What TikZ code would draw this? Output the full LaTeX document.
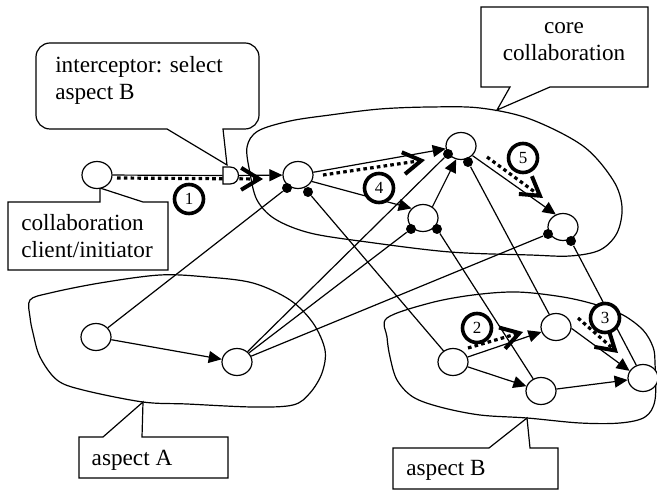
\documentclass[tikz,border=0pt]{standalone}
\usepackage{fontspec}
\setmainfont{Liberation Serif}
\usetikzlibrary{shapes.geometric, arrows.meta, calc}

\tikzset{
  obj/.style={ellipse, draw, fill=white, line width=0.6pt, minimum width=15pt, minimum height=13.5pt, inner sep=0pt},
  pin/.style={circle, fill=black, inner sep=0pt, minimum size=5pt},
  conn/.style={line width=0.6pt},
  call/.style={conn, -{Triangle[length=6.5pt,width=6pt]}},
  msg/.style={line width=1.6pt, dash pattern=on 1.8pt off 1.6pt, -{Straight Barb[length=9pt,width=11pt,line width=2pt]}},
  stepno/.style={circle, draw, fill=white, line width=1.8pt, minimum size=14.5pt, inner sep=0pt, font=\fontsize{8.5}{9}\selectfont},
  note/.style={align=left, inner sep=0pt, font=\fontsize{11.6}{13.5}\selectfont},
  balloon/.style={draw, fill=white, line width=0.6pt}
}

\begin{document}
\begin{tikzpicture}[x=0.5pt, y=-0.5pt]
  \useasboundingbox (0,0) rectangle (657,491);

  % outlines: core collaboration, aspect A, aspect B
  \draw[conn] plot[smooth cycle, tension=0.55] coordinates {(247,147) (258,131) (290,121) (330,115) (380,109) (430,107) (480,108) (530,119) (583,146) (613,180) (622,207) (617,233) (600,250) (570,256) (530,255) (450,252) (367,242) (310,233) (275,219) (257,200) (250,173)};
  \draw[conn] plot[smooth cycle, tension=0.55] coordinates {(30,300) (50,293) (100,283) (160,275) (207,277) (253,283) (290,300) (313,323) (325,350) (322,373) (310,393) (293,405) (253,407) (187,404) (143,402) (83,390) (57,380) (40,357) (33,333) (30,317)};
  \draw[conn] plot[smooth cycle, tension=0.55] coordinates {(387,318) (430,303) (473,295) (517,292) (563,297) (597,305) (623,315) (643,330) (653,347) (655,363) (655,400) (645,417) (620,423) (580,423) (527,418) (480,415) (440,407) (413,397) (397,380) (390,357) (387,337)};

  % callouts
  \draw[balloon] (227,165) -- (167,129) [rounded corners=7pt] -- (36,129) -- (36,43) -- (259,43) -- (259,129) [sharp corners] -- (223,129) -- cycle;
  \draw[balloon] (100,188) -- (143,202) -- (168,202) -- (168,270) -- (8,270) -- (8,202) -- (100,202) -- cycle;
  \draw[balloon] (497,110) -- (510,87) -- (481,87) -- (481,7) -- (648,7) -- (648,87) -- (550,87) -- cycle;
  \draw[balloon] (143,402) -- (142,437) -- (228,437) -- (228,478) -- (79,478) -- (79,437) -- (103,437) -- cycle;
  \draw[balloon] (527,418) -- (530,448) -- (558,448) -- (558,489) -- (393,489) -- (393,448) -- (489,448) -- cycle;
  \node[note] (icptnote) at (139,80) {interceptor: select\\aspect B};
  \node[note] (clientnote) at (87,236) {collaboration\\client/initiator};
  \node[note, align=center] (corenote) at (564,42) {core\\collaboration};
  \node[note] (anote) at (132,460) {aspect A};
  \node[note] (bnote) at (446,470) {aspect B};

  % components
  \node[obj] (client) at (97,175) {};
  \node[obj] (n1) at (298,175) {};
  \node[obj] (n2) at (461,146) {};
  \node[obj] (n3) at (423,218) {};
  \node[obj] (n4) at (563,227) {};
  \node[obj] (a1) at (96,337) {};
  \node[obj] (a2) at (237,362) {};
  \node[obj] (b1) at (453,362) {};
  \node[obj] (b2) at (556,327) {};
  \node[obj] (b3) at (541,391) {};
  \node[obj] (b4) at (643,378) {};
  \node[inner sep=0pt, minimum width=7.5pt, minimum height=8.5pt] (icpt) at (230.5,175.5) {};

  % join points on the core components
  \node[pin] (n1a) at (287,188) {};
  \node[pin] (n1b) at (308,192) {};
  \node[pin] (n2a) at (448,154) {};
  \node[pin] (n2b) at (468,162) {};
  \node[pin] (n3a) at (411,229) {};
  \node[pin] (n3b) at (437,229) {};
  \node[pin] (n4a) at (548,234) {};
  \node[pin] (n4b) at (571,241) {};

  % calls
  \draw[conn] (client) -- (icpt);
  \draw[call] (icpt) -- (n1);
  \draw[call] (n1) -- (n2);
  \draw[call] (n1.335) -- (n3.140);
  \draw[call] (n3.50) -- (n2.250);
  \draw[call] (n2.320) -- (n4.120);
  \draw[call] (a1) -- (a2);
  \draw[call] (b1) -- (b2);
  \draw[call] (b1) -- (b3);
  \draw[call] (b3) -- (b4);
  \draw[call] (b2.355) -- (b4.152);

  % left pins go to aspect A, right pins to aspect B
  \draw[conn] (n1a) -- (a1);
  \draw[conn] (n2a) -- (a2);
  \draw[conn] (n3a) -- (a2);
  \draw[conn] (n4a) -- (a2);
  \draw[conn] (n1b) -- (b1);
  \draw[conn] (n2b) -- (b2);
  \draw[conn] (n3b) -- (b3);
  \draw[conn] (n4b) -- (b4);

  % message flow
  \coordinate (m1s) at (117,178);  \coordinate (m1e) at (263,179);
  \coordinate (m2s) at (468,348);  \coordinate (m2e) at (523,332);
  \coordinate (m3s) at (578,318);  \coordinate (m3e) at (618,353);
  \coordinate (m4s) at (323,175);  \coordinate (m4e) at (425,160);
  \coordinate (m5s) at (487,157);  \coordinate (m5e) at (543,198);
  \draw[msg] (m1s) -- (m1e);
  \draw[msg] (m2s) -- (m2e);
  \draw[msg] (m3s) -- (m3e);
  \draw[msg] (m4s) -- (m4e);
  \draw[msg] (m5s) -- (m5e);

  % interceptor
  \draw[balloon] (223,167) -- (230,167) .. controls (241.3,167) and (241.3,184) .. (230,184) -- (223,184) -- cycle;

  % step numbers
  \node[stepno] (s1) at (189,199) {1};
  \node[stepno] (s2) at (477,328) {2};
  \node[stepno] (s3) at (605,318) {3};
  \node[stepno] (s4) at (379,188) {4};
  \node[stepno] (s5) at (523,158) {5};
\end{tikzpicture}
\end{document}
